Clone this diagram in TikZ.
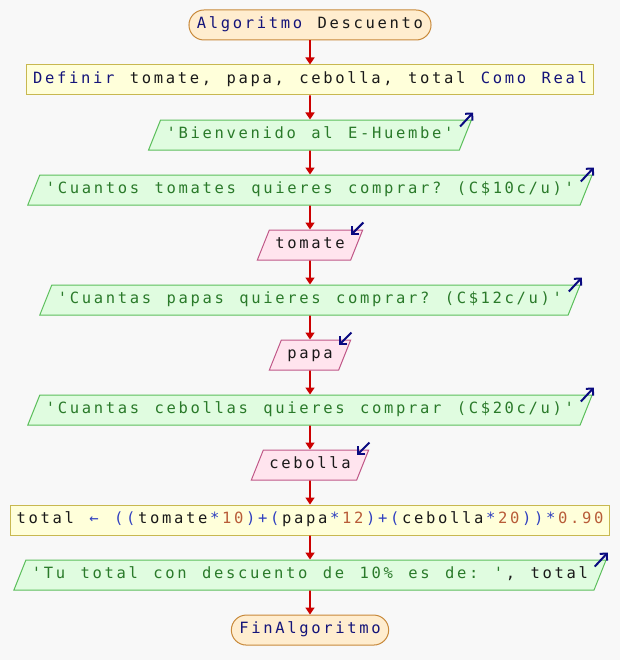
\documentclass[tikz,border=0pt]{standalone}
\usepackage{fontspec}
\setmonofont{DejaVu Sans Mono}[LetterSpace=17.2, WordSpace=1.286]
\usepackage{xcolor}
\usepackage{tikz}
\usetikzlibrary{arrows.meta}
\usetikzlibrary{calc}
\usetikzlibrary{shapes.geometric}
\definecolor{bggray}{HTML}{F8F8F8}
\definecolor{termfill}{HTML}{FFEDCF}
\definecolor{termline}{HTML}{C8893A}
\definecolor{procfill}{HTML}{FFFFDA}
\definecolor{procline}{HTML}{C8B850}
\definecolor{outfill}{HTML}{E0FCE0}
\definecolor{outedge}{HTML}{5CBF5C}
\definecolor{infill}{HTML}{FFE4EE}
\definecolor{inedge}{HTML}{C05888}
\definecolor{flowred}{HTML}{CC0000}
\definecolor{iconblue}{HTML}{0A0A80}
\definecolor{kwcol}{HTML}{14147A}
\definecolor{strcol}{HTML}{2A7A2A}
\definecolor{opcol}{HTML}{3040C0}
\definecolor{numcol}{HTML}{B85C38}
% gap lost where the colour changes inside a word
\newcommand{\lsp}{\kern2.67pt}
\newcommand{\kwd}[1]{\textcolor{kwcol}{#1}}
\newcommand{\txtstr}[1]{\textcolor{strcol}{#1}}
\newcommand{\opr}[1]{\textcolor{opcol}{#1}}
\newcommand{\opk}[1]{\lsp\textcolor{opcol}{#1}\lsp}
\newcommand{\nmb}[1]{\textcolor{numcol}{#1}}
\tikzstyle{base} = [font=\ttfamily\fontsize{15.5}{18}\selectfont,
	text=black!90,
	text height=10.5pt,
	text depth=3pt,
	inner ysep=8.25pt,
	line width=1pt]
\tikzstyle{termbox} = [base, draw=termline, fill=termfill,
	rounded corners=15pt, inner xsep=8pt]
\tikzstyle{procbox} = [base, draw=procline, fill=procfill, inner xsep=6.5pt]
\tikzstyle{outbox} = [base, trapezium,
	trapezium left angle=68.2,
	trapezium right angle=111.8,
	draw=outedge, fill=outfill, inner xsep=6pt]
\tikzstyle{inbox} = [outbox, draw=inedge, fill=infill]
\tikzstyle{flow} = [-{Triangle[length=7pt, width=9pt]}, line width=1.6pt, draw=flowred]
\newcommand{\outicon}[1]{\draw[iconblue, line width=2pt,
	-{Straight Barb[length=5pt, width=10pt]}]
	($(#1.top right corner) + (-12,7)$) -- ($(#1.top right corner) + (1,-7)$)}
\newcommand{\inicon}[1]{\draw[iconblue, line width=2pt,
	-{Straight Barb[length=5pt, width=10pt]}]
	($(#1.top right corner) + (0,-7)$) -- ($(#1.top right corner) + (-12,5)$)}
\begin{document}
\begin{tikzpicture}[x=1pt, y=-1pt]
	\fill [bggray] (0,0) rectangle (620,660);
	\useasboundingbox (0,0) rectangle (620,660);
	
	\node (start) [termbox] at (310,25) {\kwd{Algoritmo} Descuento};
	
	\node (define) [procbox, below=24pt] at (start.south) {\kwd{Definir} tomate, papa, cebolla, total \kwd{Como Real}};
	\draw [flow] (start) -- (define);
	
	\node (welcome) [outbox, below=24pt] at (define.south) {\txtstr{'Bienvenido al E-Huembe'}};
	\draw [flow] (define) -- (welcome);
	\outicon{welcome};
	
	\node (asktom) [outbox, below=24pt] at (welcome.south) {\txtstr{'Cuantos tomates quieres comprar? (C\$10c/u)'}};
	\draw [flow] (welcome) -- (asktom);
	\outicon{asktom};
	
	\node (tomate) [inbox, below=24pt] at (asktom.south) {tomate};
	\draw [flow] (asktom) -- (tomate);
	\inicon{tomate};
	
	\node (askpapa) [outbox, below=24pt] at (tomate.south) {\txtstr{'Cuantas papas quieres comprar? (C\$12c/u)'}};
	\draw [flow] (tomate) -- (askpapa);
	\outicon{askpapa};
	
	\node (papa) [inbox, below=24pt] at (askpapa.south) {papa};
	\draw [flow] (askpapa) -- (papa);
	\inicon{papa};
	
	\node (askceb) [outbox, below=24pt] at (papa.south) {\txtstr{'Cuantas cebollas quieres comprar (C\$20c/u)'}};
	\draw [flow] (papa) -- (askceb);
	\outicon{askceb};
	
	\node (cebolla) [inbox, below=24pt] at (askceb.south) {cebolla};
	\draw [flow] (askceb) -- (cebolla);
	\inicon{cebolla};
	
	\node (total) [procbox, below=24pt] at (cebolla.south) {total \opr{←} \opr{((}\lsp tomate\opk{*}\nmb{10}\opk{)+(}papa\opk{*}\nmb{12}\opk{)+(}cebolla\opk{*}\nmb{20}\opk{))*}\nmb{0.90}};
	\draw [flow] (cebolla) -- (total);
	
	\node (showtotal) [outbox, below=24pt] at (total.south) {\txtstr{'Tu total con descuento de 10\% es de: '}\lsp, total};
	\draw [flow] (total) -- (showtotal);
	\outicon{showtotal};
	
	\node (finish) [termbox, below=24pt] at (showtotal.south) {\kwd{FinAlgoritmo}};
	\draw [flow] (showtotal) -- (finish);
\end{tikzpicture}
\end{document}
